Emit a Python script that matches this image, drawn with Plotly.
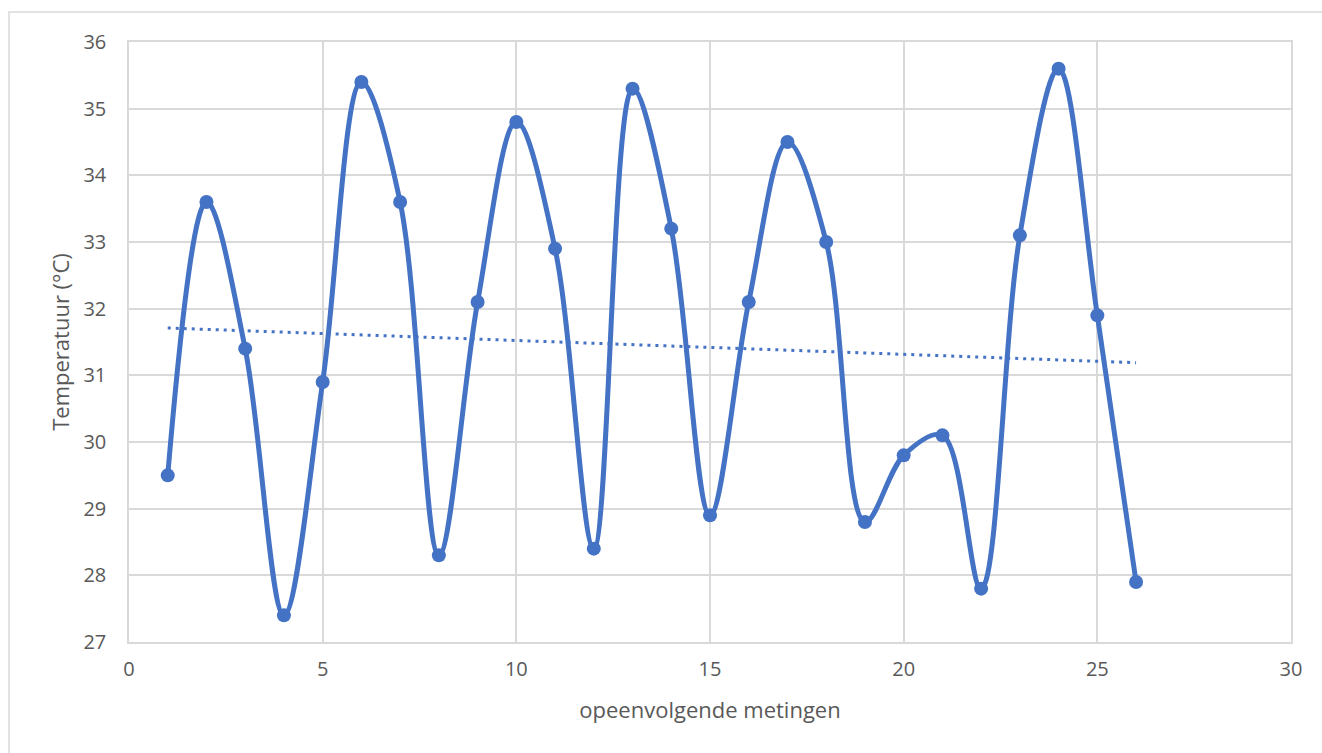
import plotly.graph_objects as go

x_vals = list(range(1, 27))
temps = [29.5, 33.6, 31.4, 27.4, 30.9, 35.4, 33.6, 28.3, 32.1, 34.8,
         32.9, 28.4, 35.3, 33.2, 28.9, 32.1, 34.5, 33.0, 28.8, 29.8,
         30.1, 27.8, 33.1, 35.6, 31.9, 27.9]
# linear trendline end values
trend_x = [1, 26]
trend_y = [31.71, 31.19]
x_ticks = [0, 5, 10, 15, 20, 25, 30]
y_ticks = [27, 28, 29, 30, 31, 32, 33, 34, 35, 36]

blue = "#4472C4"
grid = "#D9D9D9"
txt = "#595959"
font_family = "Open Sans, Liberation Sans, sans-serif"

fig = go.Figure()
fig.add_trace(go.Scatter(
    x=x_vals, y=temps, mode="lines+markers",
    line=dict(color=blue, width=5, shape="spline", smoothing=1.0),
    marker=dict(color=blue, size=14),
    showlegend=False,
))
fig.add_trace(go.Scatter(
    x=trend_x, y=trend_y, mode="lines",
    line=dict(color=blue, width=3, dash="3px,5px"),
    showlegend=False,
))

fig.update_layout(
    width=1322, height=753,
    margin=dict(l=129, r=31, t=42, b=111),
    paper_bgcolor="white", plot_bgcolor="white",
    font=dict(family=font_family, size=20, color=txt),
    shapes=[dict(type="rect", xref="paper", yref="paper",
                 x0=(9 - 129) / 1162, x1=(1162 + 31 + 5) / 1162,
                 y0=(-111 - 10) / 600, y1=1 + 30 / 600,
                 line=dict(color=grid, width=1.5), layer="below")],
)
fig.update_xaxes(
    range=[0, 30], tickvals=x_ticks, ticks="", showgrid=True,
    gridcolor=grid, gridwidth=1.5, zeroline=False,
    showline=True, linecolor=grid, linewidth=1.5, mirror=True,
    tickfont=dict(size=20, color=txt), ticklabelstandoff=8,
    title=dict(text="opeenvolgende metingen", font=dict(size=22, color=txt), standoff=22),
)
fig.update_yaxes(
    range=[27, 36], tickvals=y_ticks, ticks="", showgrid=True,
    gridcolor=grid, gridwidth=1.5, zeroline=False,
    showline=True, linecolor=grid, linewidth=1.5, mirror=True,
    tickfont=dict(size=20, color=txt), ticklabelstandoff=17,
    title=dict(text="Temperatuur (°C)", font=dict(size=22, color=txt), standoff=8),
)

fig.write_html("out.html")
